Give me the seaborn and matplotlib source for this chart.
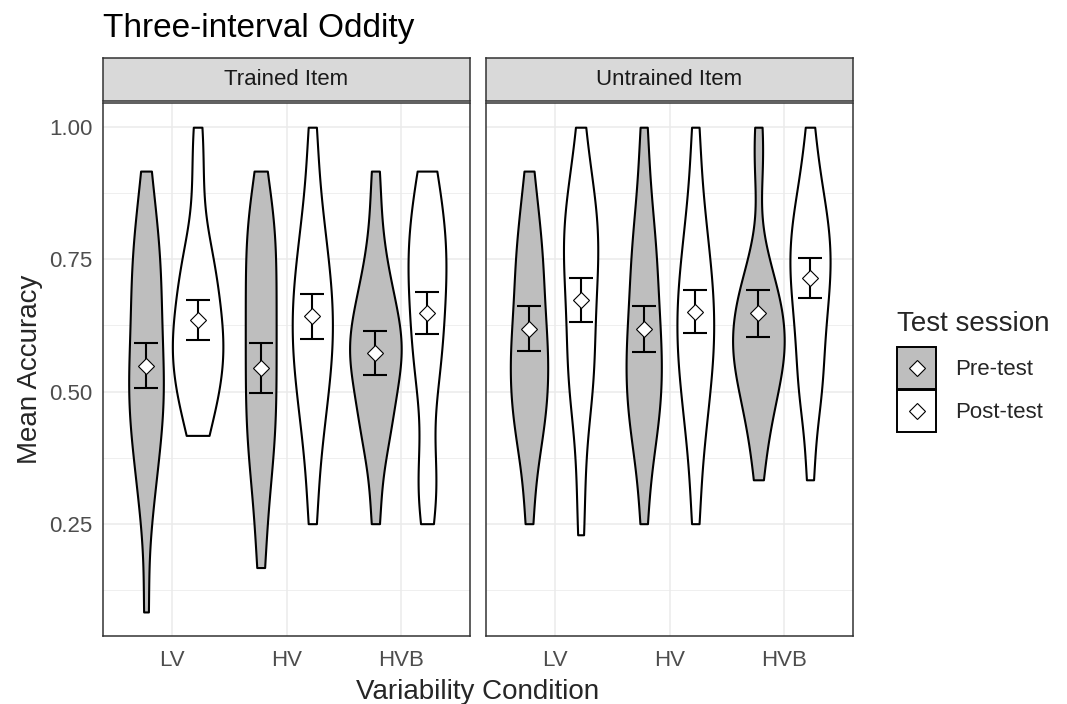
import numpy as np
import pandas as pd
import matplotlib
matplotlib.use("Agg")
import matplotlib.pyplot as plt
import seaborn as sns
from matplotlib.patches import Patch
from matplotlib.lines import Line2D
from matplotlib.legend_handler import HandlerTuple, HandlerLine2D

# ---------------- data ----------------
conditions = ["LV", "HV", "HVB"]
sessions = ["Pre-test", "Post-test"]
items = ["Trained Item", "Untrained Item"]

tr_lv_pre = [0.083, 0.25, 0.333, 0.333, 0.417, 0.417, 0.417, 0.5, 0.5, 0.5, 0.5, 0.583, 0.583, 0.583, 0.667, 0.667, 0.667, 0.75, 0.75, 0.75, 0.833, 0.833, 0.917]
tr_lv_post = [0.417, 0.417, 0.5, 0.5, 0.5, 0.5, 0.583, 0.583, 0.583, 0.583, 0.583, 0.667, 0.667, 0.667, 0.667, 0.75, 0.75, 0.75, 0.833, 0.917, 1.0]
tr_hv_pre = [0.167, 0.25, 0.333, 0.333, 0.417, 0.417, 0.417, 0.5, 0.5, 0.5, 0.583, 0.583, 0.583, 0.667, 0.667, 0.667, 0.75, 0.75, 0.75, 0.833, 0.833, 0.833, 0.917]
tr_hv_post = [0.25, 0.333, 0.417, 0.417, 0.5, 0.5, 0.5, 0.583, 0.583, 0.583, 0.583, 0.667, 0.667, 0.667, 0.667, 0.75, 0.75, 0.75, 0.833, 0.833, 0.917, 1.0]
tr_hvb_pre = [0.25, 0.333, 0.417, 0.417, 0.417, 0.5, 0.5, 0.5, 0.5, 0.583, 0.583, 0.583, 0.583, 0.583, 0.583, 0.667, 0.667, 0.667, 0.667, 0.75, 0.75, 0.833, 0.917]
tr_hvb_post = [0.25, 0.333, 0.333, 0.333, 0.5, 0.5, 0.583, 0.583, 0.583, 0.667, 0.667, 0.667, 0.75, 0.75, 0.75, 0.75, 0.833, 0.833, 0.833, 0.917, 0.917]

un_lv_pre = [0.25, 0.333, 0.417, 0.417, 0.417, 0.5, 0.5, 0.5, 0.5, 0.583, 0.583, 0.583, 0.583, 0.667, 0.667, 0.667, 0.75, 0.75, 0.75, 0.833, 0.833, 0.917]
un_lv_post = [0.229, 0.333, 0.417, 0.5, 0.5, 0.5, 0.583, 0.583, 0.583, 0.667, 0.667, 0.667, 0.75, 0.75, 0.75, 0.75, 0.833, 0.833, 0.833, 0.833, 0.917, 0.917, 1.0]
un_hv_pre = [0.25, 0.333, 0.417, 0.417, 0.417, 0.5, 0.5, 0.5, 0.5, 0.583, 0.583, 0.583, 0.583, 0.667, 0.667, 0.667, 0.75, 0.75, 0.75, 0.833, 0.833, 0.917, 1.0]
un_hv_post = [0.25, 0.333, 0.417, 0.417, 0.5, 0.5, 0.5, 0.583, 0.583, 0.583, 0.583, 0.667, 0.667, 0.667, 0.667, 0.75, 0.75, 0.75, 0.833, 0.833, 0.917, 1.0]
un_hvb_pre = [0.333, 0.417, 0.417, 0.5, 0.5, 0.5, 0.5, 0.583, 0.583, 0.583, 0.583, 0.583, 0.583, 0.667, 0.667, 0.667, 0.667, 0.667, 0.75, 0.75, 0.917, 1.0]
un_hvb_post = [0.333, 0.417, 0.5, 0.5, 0.5, 0.583, 0.583, 0.583, 0.667, 0.667, 0.667, 0.667, 0.75, 0.75, 0.75, 0.75, 0.75, 0.833, 0.833, 0.833, 0.833, 0.917, 0.917, 1.0]

# means and standard errors (diamonds and error bars)
mean_trained_pre = [0.549, 0.544, 0.573]
err_trained_pre = [0.042, 0.047, 0.041]
mean_trained_post = [0.636, 0.642, 0.648]
err_trained_post = [0.038, 0.042, 0.040]
mean_untrained_pre = [0.619, 0.618, 0.648]
err_untrained_pre = [0.043, 0.043, 0.044]
mean_untrained_post = [0.673, 0.651, 0.714]
err_untrained_post = [0.042, 0.041, 0.038]

raw = {
    ("Trained Item", "LV", "Pre-test"): tr_lv_pre,
    ("Trained Item", "LV", "Post-test"): tr_lv_post,
    ("Trained Item", "HV", "Pre-test"): tr_hv_pre,
    ("Trained Item", "HV", "Post-test"): tr_hv_post,
    ("Trained Item", "HVB", "Pre-test"): tr_hvb_pre,
    ("Trained Item", "HVB", "Post-test"): tr_hvb_post,
    ("Untrained Item", "LV", "Pre-test"): un_lv_pre,
    ("Untrained Item", "LV", "Post-test"): un_lv_post,
    ("Untrained Item", "HV", "Pre-test"): un_hv_pre,
    ("Untrained Item", "HV", "Post-test"): un_hv_post,
    ("Untrained Item", "HVB", "Pre-test"): un_hvb_pre,
    ("Untrained Item", "HVB", "Post-test"): un_hvb_post,
}
rows = []
for (item, cond, sess), vals in raw.items():
    for v in vals:
        rows.append({"item": item, "condition": cond, "session": sess, "accuracy": v})
df = pd.DataFrame(rows)

summary = {
    "Trained Item": {"Pre-test": (mean_trained_pre, err_trained_pre),
                     "Post-test": (mean_trained_post, err_trained_post)},
    "Untrained Item": {"Pre-test": (mean_untrained_pre, err_untrained_pre),
                       "Post-test": (mean_untrained_post, err_untrained_post)},
}

# ---------------- style ----------------
sns.set_style("white")
plt.rcParams["font.family"] = ["Liberation Sans", "DejaVu Sans"]

W, H = 1067, 704
fig = plt.figure(figsize=(W / 100, H / 100), dpi=100)

fills = {"Pre-test": "#BEBEBE", "Post-test": "#FFFFFF"}
dodge = 0.225
pan_left = [103, 486]
pan_w = 367
pan_top, pan_bot = 103, 636
ylo, yhi = 0.0375, 1.0458

for i, item in enumerate(items):
    ax = fig.add_axes([pan_left[i] / W, (H - pan_bot) / H, pan_w / W, (pan_bot - pan_top) / H])
    sub = df[df["item"] == item]
    sns.violinplot(data=sub, x="condition", y="accuracy", hue="session",
                   order=conditions, hue_order=sessions, palette=fills,
                   cut=0, density_norm="area", common_norm=True, width=0.9, gap=0,
                   inner=None, linewidth=1.5, linecolor="black", saturation=1,
                   bw_adjust=0.75, legend=False, ax=ax, zorder=3)
    base = np.arange(len(conditions))
    for j, sess in enumerate(sessions):
        m, e = summary[item][sess]
        xpos = base + (-dodge if j == 0 else dodge)
        ax.errorbar(xpos, m, yerr=e, fmt="none", ecolor="black", elinewidth=1.5,
                    capsize=8.4, capthick=1.5, zorder=4)
        ax.plot(xpos, m, ls="none", marker="D", ms=8.4, mfc="white", mec="black",
                mew=0.8, zorder=5)

    ax.set_xlim(-0.6, 2.6)
    ax.set_ylim(ylo, yhi)
    ax.set_yticks([0.25, 0.5, 0.75, 1.0])
    ax.set_yticks([0.125, 0.375, 0.625, 0.875], minor=True)
    ax.set_xticks(base)
    ax.set_xticklabels(conditions)
    ax.set_xlabel("")
    ax.set_ylabel("")
    ax.set_axisbelow(True)
    ax.grid(True, which="major", color="#EBEBEB", lw=1.1)
    ax.grid(True, which="minor", axis="y", color="#EBEBEB", lw=0.55)
    for s in ax.spines.values():
        s.set_color("#333333")
        s.set_linewidth(1.1)
        s.set_visible(True)
    ax.tick_params(axis="both", which="major", direction="out", length=4.3, width=0.9,
                   color="#333333", labelsize=16, labelcolor="#4D4D4D")
    ax.tick_params(axis="x", which="major", pad=5.8)
    ax.tick_params(axis="y", which="major", pad=3.5)
    ax.tick_params(axis="y", which="minor", length=0)
    if i == 0:
        ax.set_yticklabels(["0.25", "0.50", "0.75", "1.00"])
    else:
        ax.tick_params(axis="y", which="both", left=False, labelleft=False)

    # strip
    sax = fig.add_axes([pan_left[i] / W, (H - 101) / H, pan_w / W, 43 / H])
    sax.set_facecolor("#D9D9D9")
    sax.set_xticks([])
    sax.set_yticks([])
    for s in sax.spines.values():
        s.set_color("#333333")
        s.set_linewidth(1.1)
    sax.text(0.5, 0.5, item, ha="center", va="center", fontsize=16, color="#1A1A1A",
             transform=sax.transAxes)

fig.text(103 / W, 1 - 37 / H, "Three-interval Oddity", fontsize=24, color="black",
         ha="left", va="baseline")
fig.text(30 / W, 1 - 369.5 / H, "Mean Accuracy", fontsize=20, rotation=90,
         ha="center", va="center")
fig.text(478 / W, 1 - 699 / H, "Variability Condition", fontsize=20,
         ha="center", va="baseline")


class CenteredMarkerHandler(HandlerLine2D):
    def create_artists(self, legend, orig_handle, xdescent, ydescent, width, height,
                       fontsize, trans):
        arts = super().create_artists(legend, orig_handle, xdescent, ydescent, width,
                                      height, fontsize, trans)
        for a in arts:
            n = len(a.get_xdata())
            a.set_xdata([-xdescent + width / 2] * n)
            a.set_ydata([-ydescent + height / 2] * n)
        return arts


# legend
fig.text(897 / W, 1 - 331 / H, "Test session", fontsize=20, ha="left", va="baseline")
handles = []
for sess in sessions:
    p = Patch(facecolor=fills[sess], edgecolor="black", linewidth=1.4)
    mk = Line2D([], [], ls="none", marker="D", ms=8.4, mfc="white", mec="black", mew=0.8)
    handles.append((p, mk))
leg = fig.legend(handles, sessions,
                 handler_map={tuple: HandlerTuple(ndivide=1),
                              Line2D: CenteredMarkerHandler(numpoints=1)},
                 loc="upper left", bbox_to_anchor=(897 / W, 1 - 347 / H),
                 frameon=False, fontsize=16, numpoints=1,
                 handlelength=1.76, handleheight=2.53, labelspacing=0.05,
                 handletextpad=0.85, borderpad=0, borderaxespad=0)

fig.savefig("out.png", dpi=100)
